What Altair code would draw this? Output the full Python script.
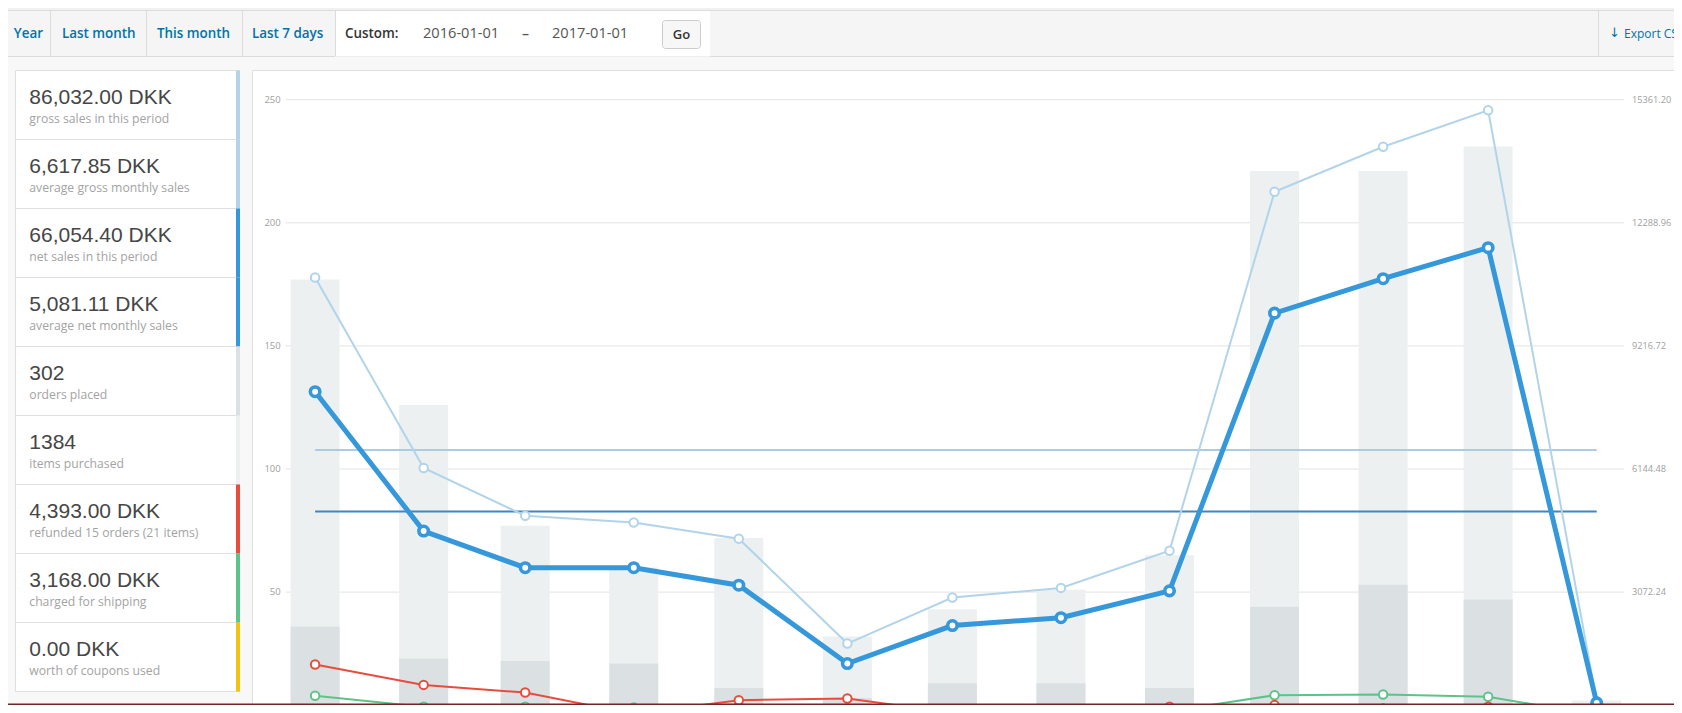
import altair as alt
import pandas as pd

# ---------------- data ----------------
months = ["2016-01-01", "2016-02-01", "2016-03-01", "2016-04-01", "2016-05-01",
          "2016-06-01", "2016-07-01", "2016-08-01", "2016-09-01", "2016-10-01",
          "2016-11-01", "2016-12-01", "2017-01-01"]
items_purchased = [177, 126, 77, 60, 72, 32, 43, 51, 65, 221, 221, 231, 6]
orders_placed = [36, 23, 22, 21, 11, 7, 13, 13, 11, 44, 53, 47, 1]
gross_sales = [10925, 6169, 4977, 4811, 4406, 1788, 2937, 3177, 4105, 13063, 14188, 15097, 344]
net_sales = [8074, 4596, 3681, 3681, 3244, 1290, 2237, 2433, 3103, 10034, 10894, 11668, 307]
refund_amount = [1266, 756, 565, 31, 375, 418, 61, 61, 209, 252, 166, 209, 18]
shipping_amount = [485, 209, 209, 190, 233, 86, 92, 92, 100, 498, 516, 461, 0]
coupon_amount = [0, 0, 0, 0, 0, 0, 0, 0, 0, 0, 0, 0, 0]
average_gross = 6617.85
average_net = 5081.11

count_ticks = [50, 100, 150, 200, 250]
count_tick_labels = ["50", "100", "150", "200", "250"]
money_ticks = [3072.24, 6144.48, 9216.72, 12288.96, 15361.20]
money_tick_labels = ["3072.24", "6144.48", "9216.72", "12288.96", "15361.20"]

legend_values = ["86,032.00 DKK", "6,617.85 DKK", "66,054.40 DKK", "5,081.11 DKK",
                 "302", "1384", "4,393.00 DKK", "3,168.00 DKK", "0.00 DKK"]
legend_labels = ["gross sales in this period", "average gross monthly sales",
                 "net sales in this period", "average net monthly sales",
                 "orders placed", "items purchased", "refunded 15 orders (21 items)",
                 "charged for shipping", "worth of coupons used"]
legend_colors = ["#b1d4ea", "#b1d4ea", "#3498db", "#3498db", "#dbe1e3",
                 "#ecf0f1", "#e74c3c", "#5cc488", "#f1c40f"]

tab_labels = ["Year", "Last month", "This month", "Last 7 days"]

# ---------------- frames ----------------
df = pd.DataFrame({
    "month": months,
    "items": items_purchased,
    "orders": orders_placed,
    "gross": gross_sales,
    "net": net_sales,
    "refund": refund_amount,
    "shipping": shipping_amount,
    "coupon": coupon_amount,
})
avg_df = pd.DataFrame({
    "start": [months[0], months[0]],
    "end": [months[-1], months[-1]],
    "avg": [average_gross, average_net],
    "color": ["#a9cde4", "#3a89c6"],
})
count_df = pd.DataFrame({"t": count_ticks, "lab": count_tick_labels})
money_df = pd.DataFrame({"t": money_ticks, "lab": money_tick_labels})
side_df = pd.DataFrame({
    "i": list(range(len(legend_values))),
    "value": legend_values,
    "label": legend_labels,
    "color": legend_colors,
})

# canvas sized so the page (8px margins) fits the 1682x713 window exactly
W, H = 1666, 697
FONT = "Open Sans"

xs = alt.Scale(type="utc",
               domain=[alt.DateTime(year=2016, month=1, date=1, utc=True),
                       alt.DateTime(year=2017, month=1, date=1, utc=True)],
               range=[302.1, 1593.7])
ys_count = alt.Scale(domain=[0, 250], range=[707.2, 91.7], nice=False, zero=False)
ys_money = alt.Scale(domain=[0, 15361.2], range=[707.2, 91.7], nice=False, zero=False)
ys_idx = alt.Scale(domain=[0, 9], range=[62.5, 683.5], nice=False, zero=False)

X = alt.X("month:T", scale=xs, axis=None)

one = pd.DataFrame({"k": [0]})


def box(x, x2, y, y2, **kw):
    return alt.Chart(one).mark_rect(**kw).encode(
        x=alt.value(x), x2=alt.value(x2), y=alt.value(y), y2=alt.value(y2))


def label(x, y, t, **kw):
    return alt.Chart(one).mark_text(**kw).encode(
        x=alt.value(x), y=alt.value(y), text=alt.value(t))


def vline(x, y, y2, color="#dcdcdc"):
    return alt.Chart(one).mark_rule(color=color, strokeWidth=1).encode(
        x=alt.value(x), y=alt.value(y), y2=alt.value(y2))


layers = []

# top strip and tab bar
layers.append(box(0, W, 0, 3, fill="#f1f1f1"))
layers.append(box(-2, W + 2, 2.5, 48.5, fill="#f5f5f5", stroke="#dcdcdc", strokeWidth=1))
layers.append(box(327, 702, 3, 48.5, fill="#ffffff"))
for xx in [42.5, 138.5, 234.5, 327.5, 1590.5]:
    layers.append(vline(xx, 3, 48))

tab_x = [5.8, 54, 149, 244]
for t, xx in zip(tab_labels, tab_x):
    layers.append(label(xx, 25.5, t, align="left", baseline="middle", font=FONT,
                        fontSize=13.4, fontWeight=600, color="#0073aa"))
layers.append(label(337, 25.5, "Custom:", align="left", baseline="middle", font=FONT,
                    fontSize=13.4, fontWeight=600, color="#333333"))
layers.append(label(415, 25.5, "2016-01-01", align="left", baseline="middle", font=FONT,
                    fontSize=14.6, color="#555555"))
layers.append(label(517.6, 25.5, "–", align="center", baseline="middle", font=FONT,
                    fontSize=14, fontWeight=600, color="#555555"))
layers.append(label(544, 25.5, "2017-01-01", align="left", baseline="middle", font=FONT,
                    fontSize=14.6, color="#555555"))
layers.append(box(654.5, 692.5, 12.5, 40.5, fill="#f7f7f7", stroke="#cccccc",
                  strokeWidth=1, cornerRadius=3))
layers.append(label(673.5, 26.5, "Go", align="center", baseline="middle", font=FONT,
                    fontSize=13, fontWeight=600, color="#333333"))
layers.append(label(1601, 24.5, "↓", align="left", baseline="middle", font="DejaVu Sans",
                    fontSize=13, color="#0073aa"))
layers.append(label(1616, 25.5, "Export CSV", align="left", baseline="middle", font=FONT,
                    fontSize=12, color="#0073aa"))

# sidebar legend boxes
side = alt.Chart(side_df).transform_calculate(i2="datum.i + 1")
Yi = alt.Y("i:Q", scale=ys_idx, axis=None)
layers.append(side.mark_rect(fill="#ffffff", stroke="#dfdfdf", strokeWidth=1).encode(
    x=alt.value(7.5), x2=alt.value(231.5), y=Yi, y2="i2:Q"))
layers.append(side.mark_rect().encode(
    x=alt.value(228), x2=alt.value(232), y=Yi, y2="i2:Q",
    color=alt.Color("color:N", scale=None)))
layers.append(side.mark_text(align="left", baseline="alphabetic", dy=33.8,
                             font="Liberation Sans", fontSize=21, color="#464646").encode(
    x=alt.value(21.3), y=Yi, text="value:N"))
layers.append(side.mark_text(align="left", baseline="alphabetic", dy=52.8,
                             font=FONT, fontSize=12.2, color="#a3a3a3").encode(
    x=alt.value(21.3), y=Yi, text="label:N"))

# chart panel
layers.append(box(244.5, W + 5, 62.5, H + 5, fill="#ffffff", stroke="#dfdfdf", strokeWidth=1))

# grid and axis labels
layers.append(alt.Chart(count_df).mark_rule(color="#e3e3e3", strokeWidth=1).encode(
    y=alt.Y("t:Q", scale=ys_count, axis=None), x=alt.value(277.7), x2=alt.value(1616)))
layers.append(alt.Chart(count_df).mark_text(align="right", baseline="middle", font=FONT,
                                            fontSize=9.5, color="#a0a0a0").encode(
    y=alt.Y("t:Q", scale=ys_count, axis=None), x=alt.value(272.7), text="lab:N"))
layers.append(alt.Chart(money_df).mark_text(align="left", baseline="middle", font=FONT,
                                            fontSize=9.2, color="#a0a0a0").encode(
    y=alt.Y("t:Q", scale=ys_money, axis=None), x=alt.value(1624), text="lab:N"))

# bars
layers.append(alt.Chart(df).mark_bar(color="#ecf0f1", size=49).encode(
    x=X, y=alt.Y("items:Q", scale=ys_count, axis=None)))
layers.append(alt.Chart(df).mark_bar(color="#dbe1e3", size=49).encode(
    x=X, y=alt.Y("orders:Q", scale=ys_count, axis=None)))

# average lines
layers.append(alt.Chart(avg_df).mark_rule(strokeWidth=2).encode(
    x=alt.X("start:T", scale=xs, axis=None), x2="end:T",
    y=alt.Y("avg:Q", scale=ys_money, axis=None),
    color=alt.Color("color:N", scale=None)))


def series(col, color, lw, size, sw):
    Y = alt.Y(f"{col}:Q", scale=ys_money, axis=None)
    ln = alt.Chart(df).mark_line(color=color, strokeWidth=lw).encode(x=X, y=Y)
    pt = alt.Chart(df).mark_point(shape="circle", filled=True, fill="#ffffff", stroke=color,
                                  strokeWidth=sw, size=size, opacity=1).encode(x=X, y=Y)
    return [ln, pt]


layers += series("coupon", "#f1c40f", 2, 72, 2)
layers += series("shipping", "#5cc488", 2, 72, 2)
layers += series("refund", "#e74c3c", 2, 72, 2)
layers += series("gross", "#b1d4ea", 2, 72, 2)
layers += series("net", "#3498db", 5, 90, 3.6)

# bottom edge
layers.append(alt.Chart(one).mark_rule(color="#6b2626", strokeWidth=1.6).encode(
    x=alt.value(0), x2=alt.value(W), y=alt.value(H - 0.8)))

chart = alt.layer(*layers).resolve_scale(y="independent").properties(
    width=W, height=H, padding=0, background="#f8f8f8",
    autosize=alt.AutoSizeParams(type="none"),
).configure_view(stroke=None)

chart.save("out.html", embed_options={"renderer": "svg", "actions": False})
